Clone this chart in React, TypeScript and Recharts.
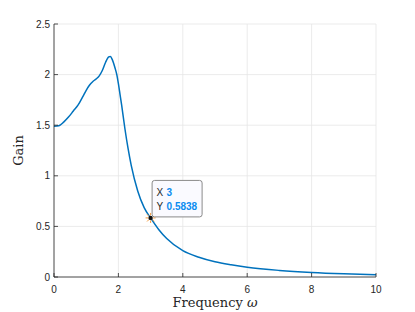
import React from 'react';
import { LineChart, Line, XAxis, YAxis, CartesianGrid, ReferenceDot } from 'recharts';

// frequency response
const freq = [0, 0.15, 0.3, 0.45, 0.6, 0.75, 0.9, 1.0, 1.1, 1.2, 1.3, 1.4, 1.5, 1.6, 1.7, 1.75, 1.8, 1.9, 1.95, 2.0, 2.05, 2.1, 2.2, 2.3, 2.4, 2.6, 2.8, 3.0, 3.25, 3.5, 4, 4.5, 5, 5.5, 6, 7, 8, 9, 10];
const gain = [1.49, 1.495, 1.53, 1.58, 1.64, 1.7, 1.785, 1.845, 1.895, 1.93, 1.955, 1.985, 2.04, 2.12, 2.175, 2.18, 2.155, 2.06, 2.0, 1.91, 1.805, 1.7, 1.47, 1.27, 1.1, 0.85, 0.685, 0.5838, 0.47, 0.38, 0.26, 0.195, 0.15, 0.12, 0.096, 0.065, 0.045, 0.032, 0.023];

const xTicks = [0, 2, 4, 6, 8, 10];
const yTicks = [0, 0.5, 1, 1.5, 2, 2.5];

const tipX = 3;
const tipY = 0.5838;

const data = freq.map((f, i) => ({ f, g: gain[i] }));

const AXIS = '#262626';
const SANS = '"Liberation Sans", Arial, sans-serif';
const SERIF = '"DejaVu Serif", "Liberation Serif", serif';
const TL = 4; // tick length

const BottomTick = (props: any) => {
  const { x, y, payload } = props;
  return (
    <g>
      <line x1={x} y1={y - 12} x2={x} y2={y - 12 - TL} stroke={AXIS} strokeWidth={0.8} />
      <text x={x} y={y} dy={3.5} textAnchor="middle" fontSize={10} fontFamily={SANS} fill={AXIS}>
        {payload.value}
      </text>
    </g>
  );
};

const LeftTick = (props: any) => {
  const { x, y, payload } = props;
  return (
    <g>
      <line x1={x + 4} y1={y} x2={x + 4 + TL} y2={y} stroke={AXIS} strokeWidth={0.8} />
      <text x={x} y={y} dy={3.5} textAnchor="end" fontSize={10} fontFamily={SANS} fill={AXIS}>
        {payload.value}
      </text>
    </g>
  );
};

const TopTick = (props: any) => {
  const { x, y } = props;
  return <line x1={x} y1={y} x2={x} y2={y + TL} stroke={AXIS} strokeWidth={0.8} />;
};

const RightTick = (props: any) => {
  const { x, y } = props;
  return <line x1={x} y1={y} x2={x - TL} y2={y} stroke={AXIS} strokeWidth={0.8} />;
};

const XLabel = (props: any) => {
  const { viewBox } = props;
  const { x, y, width, height } = viewBox;
  return (
    <text x={x + width / 2} y={y + height - 5} textAnchor="middle" fontSize={13} fontFamily={SERIF} fill={AXIS}>
      Frequency <tspan fontStyle="italic">ω</tspan>
    </text>
  );
};

const DataTip = (props: any) => {
  const { cx, cy } = props;
  const rays = [0, 45, 90, 135, 180, 225, 270, 315];
  return (
    <g>
      {rays.map((a) => {
        const r = (a * Math.PI) / 180;
        return (
          <line
            key={a}
            x1={cx + Math.cos(r) * 2.5}
            y1={cy + Math.sin(r) * 2.5}
            x2={cx + Math.cos(r) * 5}
            y2={cy + Math.sin(r) * 5}
            stroke="#f39a3c"
            strokeWidth={1}
          />
        );
      })}
      <circle cx={cx} cy={cy} r={2.2} fill="#111" />
      <rect x={cx + 1.5} y={cy - 37.5} width={50} height={36.5} rx={2.5} fill="#fafaff" stroke="#8a8a8a" strokeWidth={1} />
      <text x={cx + 6} y={cy - 21.5} fontSize={10} fontFamily={SANS} fill={AXIS}>X</text>
      <text x={cx + 16} y={cy - 21.5} fontSize={10} fontFamily={SANS} fontWeight="bold" fill="#0a8cf0">{tipX}</text>
      <text x={cx + 6} y={cy - 8} fontSize={10} fontFamily={SANS} fill={AXIS}>Y</text>
      <text x={cx + 16} y={cy - 8} fontSize={10} fontFamily={SANS} fontWeight="bold" fill="#0a8cf0">{tipY}</text>
    </g>
  );
};

export default function App() {
  return (
    <div style={{ position: 'absolute', left: 0, top: 0, width: 415, height: 312, background: '#fff' }}>
      <LineChart width={415} height={312} data={data} margin={{ top: 24, right: 39, left: 0, bottom: 0 }}>
        <CartesianGrid stroke="#e6e6e6" strokeWidth={0.8} horizontalValues={yTicks} verticalValues={xTicks} />
        <XAxis
          dataKey="f"
          type="number"
          domain={[0, 10]}
          ticks={xTicks}
          height={35}
          tickSize={0}
          tickMargin={12}
          tickLine={false}
          tick={<BottomTick />}
          axisLine={{ stroke: AXIS, strokeWidth: 0.8 }}
          label={<XLabel />}
        />
        <XAxis
          xAxisId="top"
          orientation="top"
          type="number"
          domain={[0, 10]}
          ticks={xTicks}
          height={0}
          tickSize={0}
          tickMargin={0}
          tickLine={false}
          tick={<TopTick />}
          axisLine={{ stroke: AXIS, strokeWidth: 0.8 }}
        />
        <YAxis
          type="number"
          domain={[0, 2.5]}
          ticks={yTicks}
          width={54}
          tickSize={0}
          tickMargin={4}
          tickLine={false}
          tick={<LeftTick />}
          axisLine={{ stroke: AXIS, strokeWidth: 0.8 }}
          label={{ value: 'Gain', angle: -90, position: 'insideLeft', offset: 18, fontSize: 13, fontFamily: SERIF, fill: AXIS, style: { textAnchor: 'middle' } }}
        />
        <YAxis
          yAxisId="right"
          orientation="right"
          type="number"
          domain={[0, 2.5]}
          ticks={yTicks}
          width={0}
          tickSize={0}
          tickMargin={0}
          tickLine={false}
          tick={<RightTick />}
          axisLine={{ stroke: AXIS, strokeWidth: 0.8 }}
        />
        <Line
          dataKey="g"
          type="monotone"
          stroke="#0072bd"
          strokeWidth={1.5}
          dot={false}
          isAnimationActive={false}
        />
        <ReferenceDot x={tipX} y={tipY} r={2} shape={<DataTip />} />
      </LineChart>
    </div>
  );
}
